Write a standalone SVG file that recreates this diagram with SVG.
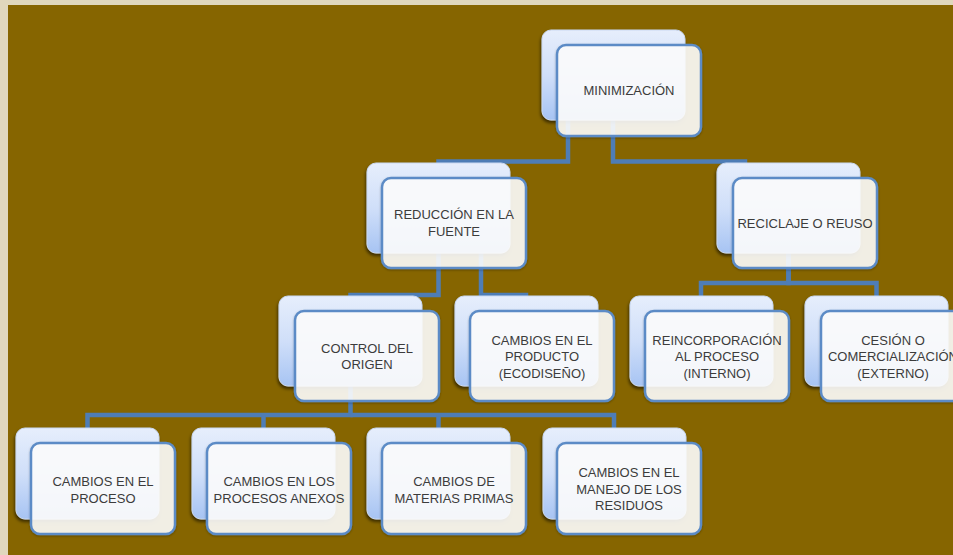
<svg xmlns="http://www.w3.org/2000/svg" width="953" height="555" viewBox="0 0 953 555">
<defs>
<linearGradient id="gBack" x1="0" y1="0" x2="0" y2="1">
<stop offset="0" stop-color="#e6eefc"/>
<stop offset="0.5" stop-color="#d0dff9"/>
<stop offset="1" stop-color="#a7c4f3"/>
</linearGradient>
<filter id="shBack" x="-10%" y="-10%" width="125%" height="130%">
<feDropShadow dx="-1" dy="2.5" stdDeviation="1.6" flood-color="#000" flood-opacity="0.55"/>
</filter>
<filter id="shFront" x="-10%" y="-10%" width="125%" height="130%">
<feDropShadow dx="0" dy="1" stdDeviation="1" flood-color="#000" flood-opacity="0.3"/>
</filter>
</defs>
<style>
.back{fill:url(#gBack);stroke:#c9d8f2;stroke-width:1;filter:url(#shBack)}
.front{fill:#ffffff;fill-opacity:0.88;stroke:#5b8bc6;stroke-width:2.5;filter:url(#shFront)}
.lbl{font-family:"Liberation Sans",Arial,sans-serif;font-size:13px;fill:#3c3c3c;text-anchor:middle}
.conn{fill:none;stroke:#4e7db6;stroke-width:4.5;stroke-linejoin:miter}
</style>
<rect x="0" y="0" width="953" height="555" fill="#e0d7bd"/>
<rect x="8" y="5" width="945" height="550" fill="#866500"/>
<g id="connectors">
<path class="conn" d="M568,118 V161.5 H438.5 V175"/>
<path class="conn" d="M613,118 V161.5 H745 V175"/>
<path class="conn" d="M438.5,250 V295 H350.5 V305"/>
<path class="conn" d="M481,250 V295 H526 V305"/>
<path class="conn" d="M788.5,250 V283 H701 V305"/>
<path class="conn" d="M788.5,250 V283 H876.5 V305"/>
<path class="conn" d="M350.5,385 V415 H87.5 V435"/>
<path class="conn" d="M350.5,415 H614 V435"/>
<path class="conn" d="M263.5,415 V435"/>
<path class="conn" d="M438.5,415 V435"/>
</g>
<g id="n-minimizacion">
<rect class="back" x="542" y="30" width="143" height="90" rx="9"/>
<rect class="front" x="557" y="45" width="144" height="91" rx="9"/>
<text class="lbl" x="629" y="95">MINIMIZACIÓN</text>
</g>
<g id="n-reduccion">
<rect class="back" x="367" y="163" width="143" height="90" rx="9"/>
<rect class="front" x="382" y="178" width="144" height="90" rx="9"/>
<text class="lbl" x="454" y="219"><tspan x="454">REDUCCIÓN EN LA</tspan><tspan x="454" dy="17">FUENTE</tspan></text>
</g>
<g id="n-reciclaje">
<rect class="back" x="717" y="163" width="143" height="90" rx="9"/>
<rect class="front" x="733" y="178" width="144" height="90" rx="9"/>
<text class="lbl" x="805" y="228">RECICLAJE O REUSO</text>
</g>
<g id="n-control">
<rect class="back" x="279" y="296" width="143" height="90" rx="9"/>
<rect class="front" x="295" y="311" width="144" height="90" rx="9"/>
<text class="lbl" x="367" y="352.5"><tspan x="367">CONTROL DEL</tspan><tspan x="367" dy="16.5">ORIGEN</tspan></text>
</g>
<g id="n-producto">
<rect class="back" x="455" y="296" width="143" height="90" rx="9"/>
<rect class="front" x="470" y="311" width="144" height="90" rx="9"/>
<text class="lbl" x="542" y="344.5"><tspan x="542">CAMBIOS EN EL</tspan><tspan x="542" dy="16.5">PRODUCTO</tspan><tspan x="542" dy="16.5">(ECODISEÑO)</tspan></text>
</g>
<g id="n-reincorporacion">
<rect class="back" x="630" y="296" width="143" height="90" rx="9"/>
<rect class="front" x="645" y="311" width="144" height="90" rx="9"/>
<text class="lbl" x="717" y="344.5"><tspan x="717">REINCORPORACIÓN</tspan><tspan x="717" dy="16.5">AL PROCESO</tspan><tspan x="717" dy="16.5">(INTERNO)</tspan></text>
</g>
<g id="n-cesion">
<rect class="back" x="805" y="296" width="143" height="90" rx="9"/>
<rect class="front" x="821" y="311" width="144" height="90" rx="9"/>
<text class="lbl" x="893" y="344.5"><tspan x="893">CESIÓN O</tspan><tspan x="893" dy="16.5">COMERCIALIZACIÓN</tspan><tspan x="893" dy="16.5">(EXTERNO)</tspan></text>
</g>
<g id="n-proceso">
<rect class="back" x="16" y="428" width="143" height="91" rx="9"/>
<rect class="front" x="31" y="443" width="144" height="91" rx="9"/>
<text class="lbl" x="103" y="486"><tspan x="103">CAMBIOS EN EL</tspan><tspan x="103" dy="16.5">PROCESO</tspan></text>
</g>
<g id="n-anexos">
<rect class="back" x="192" y="428" width="143" height="91" rx="9"/>
<rect class="front" x="207" y="443" width="144" height="91" rx="9"/>
<text class="lbl" x="279" y="486"><tspan x="279">CAMBIOS EN LOS</tspan><tspan x="279" dy="16.5">PROCESOS ANEXOS</tspan></text>
</g>
<g id="n-materias">
<rect class="back" x="367" y="428" width="143" height="91" rx="9"/>
<rect class="front" x="382" y="443" width="144" height="91" rx="9"/>
<text class="lbl" x="454" y="486"><tspan x="454">CAMBIOS DE</tspan><tspan x="454" dy="16.5">MATERIAS PRIMAS</tspan></text>
</g>
<g id="n-manejo">
<rect class="back" x="543" y="428" width="143" height="91" rx="9"/>
<rect class="front" x="557" y="443" width="144" height="91" rx="9"/>
<text class="lbl" x="629" y="477"><tspan x="629">CAMBIOS EN EL</tspan><tspan x="629" dy="16.5">MANEJO DE LOS</tspan><tspan x="629" dy="16.5">RESIDUOS</tspan></text>
</g>
</svg>
